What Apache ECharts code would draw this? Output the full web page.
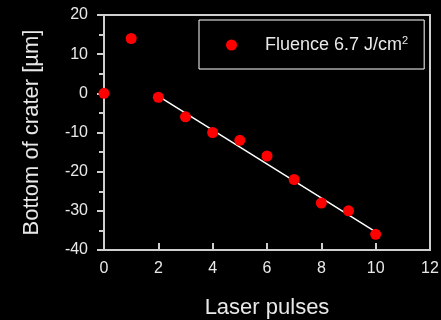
<!DOCTYPE html>
<html>
<head>
<meta charset="utf-8">
<script src="https://cdn.jsdelivr.net/npm/echarts@6/dist/echarts.min.js"></script>
<style>
  html, body { margin: 0; padding: 0; background: #000; }
  #chart { width: 441px; height: 320px; }
</style>
</head>
<body>
<div id="chart"></div>
<script>
// measured points
const pulses = [0, 1, 2, 3, 4, 5, 6, 7, 8, 9, 10];
const depth = [0, 14, -1, -6, -10, -12, -16, -22, -28, -30, -36];
// linear fit drawn over pulses 2..10
const fitX = [2, 10];
const fitY = [-0.7, -35.4];
const xTicks = [0, 2, 4, 6, 8, 10, 12];
const yTicks = [-40, -30, -20, -10, 0, 10, 20];

const font = 'Liberation Sans, Arial, sans-serif';
const txt = '#e8e8e8';
const axisCol = '#cfcfcf';

const chart = echarts.init(document.getElementById('chart'));

chart.setOption({
  backgroundColor: '#000',
  animation: false,
  grid: {
    left: 104, right: 11, top: 15, bottom: 70,
    outerBoundsMode: 'none',
    show: true, borderColor: axisCol, borderWidth: 2, backgroundColor: 'transparent'
  },
  legend: {
    left: 199, top: 20,
    padding: [15, 16, 15, 27],
    borderColor: '#fff', borderWidth: 1, borderRadius: 0,
    itemWidth: 11, itemHeight: 11,
    data: ['Fluence'],
    formatter: () => '{a|Fluence 6.7 J/cm}{s|2}',
    textStyle: {
      rich: {
        a: { color: txt, fontFamily: font, fontSize: 18, padding: [0, 0, 0, 23] },
        s: { color: txt, fontFamily: font, fontSize: 11, verticalAlign: 'top', padding: [0, 0, 9, 0] }
      }
    }
  },
  xAxis: {
    type: 'value', min: xTicks[0], max: xTicks[xTicks.length - 1], interval: 2,
    name: 'Laser pulses', nameLocation: 'middle', nameGap: 47,
    nameTextStyle: { color: txt, fontFamily: font, fontSize: 22 },
    axisLine: { show: true, onZero: false, lineStyle: { color: axisCol, width: 2 } },
    axisTick: { show: true, inside: true, length: 7, lineStyle: { color: axisCol, width: 2 } },
    axisLabel: { color: txt, fontFamily: font, fontSize: 16, margin: 11 },
    splitLine: { show: false }
  },
  yAxis: {
    type: 'value', min: yTicks[0], max: yTicks[yTicks.length - 1], interval: 10,
    name: 'Bottom of crater [\u00b5m]', nameLocation: 'middle', nameGap: 61,
    nameTextStyle: { color: txt, fontFamily: font, fontSize: 22 },
    axisLine: { show: true, onZero: false, lineStyle: { color: axisCol, width: 2 } },
    axisTick: { show: true, inside: false, length: 7, lineStyle: { color: axisCol, width: 2 } },
    minorTick: { show: true, splitNumber: 2, length: 5, lineStyle: { color: axisCol, width: 2 } },
    axisLabel: { color: txt, fontFamily: font, fontSize: 16, margin: 16 },
    splitLine: { show: false }
  },
  series: [
    {
      name: 'Fit', type: 'line', symbol: 'none', silent: true,
      data: fitX.map((x, i) => [x, fitY[i]]),
      lineStyle: { color: '#fff', width: 1.5 }, z: 2
    },
    {
      name: 'Fluence', type: 'scatter', symbol: 'circle', symbolSize: 11,
      clip: false,
      data: pulses.map((x, i) => [x, depth[i]]),
      itemStyle: { color: '#ff0000', opacity: 1 }, z: 3
    }
  ]
});
</script>
</body>
</html>
